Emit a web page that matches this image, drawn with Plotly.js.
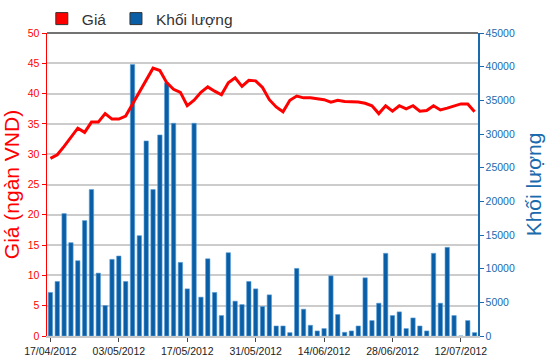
<!DOCTYPE html>
<html>
<head>
<meta charset="utf-8">
<script src="https://cdn.plot.ly/plotly-3.0.1.min.js"></script>
<style>html,body{margin:0;padding:0;background:#fff;}#chart{width:550px;height:364px;}</style>
</head>
<body>
<div id="chart"></div>
<script>
const dates = [
  "17/04/2012","18/04/2012","19/04/2012","20/04/2012","23/04/2012","24/04/2012","25/04/2012","26/04/2012","27/04/2012",
  "02/05/2012","03/05/2012","04/05/2012","07/05/2012","08/05/2012","09/05/2012","10/05/2012","11/05/2012","14/05/2012",
  "15/05/2012","16/05/2012","17/05/2012","18/05/2012","21/05/2012","22/05/2012","23/05/2012","24/05/2012","25/05/2012",
  "28/05/2012","29/05/2012","30/05/2012","31/05/2012","01/06/2012","04/06/2012","05/06/2012","06/06/2012","07/06/2012",
  "08/06/2012","11/06/2012","12/06/2012","13/06/2012","14/06/2012","15/06/2012","18/06/2012","19/06/2012","20/06/2012",
  "21/06/2012","22/06/2012","25/06/2012","26/06/2012","27/06/2012","28/06/2012","29/06/2012","02/07/2012","03/07/2012",
  "04/07/2012","05/07/2012","06/07/2012","09/07/2012","10/07/2012","11/07/2012","12/07/2012","13/07/2012","16/07/2012"
];
const price = [
  29.3, 29.9, 31.3, 32.8, 34.3, 33.6, 35.3, 35.3, 36.7,
  35.8, 35.8, 36.3, 38.3, 40.3, 42.2, 44.2, 43.8, 41.8,
  40.7, 40.2, 38.0, 38.9, 40.2, 41.1, 40.4, 39.8, 41.8,
  42.6, 41.2, 42.2, 42.1, 41.0, 39.0, 37.8, 37.0, 38.9,
  39.6, 39.3, 39.3, 39.1, 39.0, 38.6, 38.9, 38.7, 38.7,
  38.6, 38.4, 38.0, 36.7, 38.0, 37.1, 38.0, 37.5, 38.0,
  37.1, 37.2, 38.0, 37.3, 37.6, 38.0, 38.3, 38.3, 37.0
];
const volume = [
  6470, 8100, 18180, 13860, 11180, 17140, 21750, 9340, 4530,
  11380, 11880, 8100, 40330, 14900, 28970, 21750, 29860, 37600,
  31590, 10930, 7000, 31590, 5770, 11470, 6470, 3040, 12370,
  5170, 4670, 8100, 7000, 4380, 6110, 1490, 1490, 500,
  10040, 3980, 1590, 750, 1100, 8940, 3190, 550, 750,
  1490, 8640, 2290, 4870, 12280, 3040, 3580, 1100, 2680,
  1490, 750, 12280, 4870, 13170, 3040, 0, 2290, 500
];
const tickDates = ["17/04/2012","03/05/2012","17/05/2012","31/05/2012","14/06/2012","28/06/2012","12/07/2012"];
const legendNames = ["Giá", "Khối lượng"];

const RED = "#ff0000";
const BLUE = "#1a6aad";
const BAR = "#0a5ea6";
const FONT = "'Liberation Sans', Arial, sans-serif";

const traces = [
  {
    type: "bar", x: dates, y: volume, yaxis: "y", showlegend: false,
    marker: {color: BAR, line: {color: "#5b9fd6", width: 0.6}},
    hoverinfo: "x+y"
  },
  {
    type: "scatter", mode: "lines", x: dates, y: price, yaxis: "y2", showlegend: false,
    line: {color: RED, width: 3}
  },
  {
    type: "scatter", mode: "markers", x: [null], y: [null], name: legendNames[0], yaxis: "y2", legend: "legend",
    marker: {symbol: "square", size: 12, color: RED, line: {color: "#333", width: 1}}
  },
  {
    type: "scatter", mode: "markers", x: [null], y: [null], name: legendNames[1], yaxis: "y2", legend: "legend2",
    marker: {symbol: "square", size: 12, color: BAR, line: {color: "#333", width: 1}}
  }
];

const legendBase = {
  orientation: "h", xanchor: "left", y: 0.99, yanchor: "bottom",
  font: {family: FONT, size: 15.5, color: "#333"},
  bgcolor: "rgba(0,0,0,0)", borderwidth: 0, itemwidth: 30
};

const layout = {
  width: 550, height: 364,
  margin: {l: 47, r: 72, t: 33, b: 28, pad: 0, autoexpand: false},
  paper_bgcolor: "#ffffff", plot_bgcolor: "#ffffff",
  font: {family: FONT, color: "#222"},
  bargap: 0.36,
  showlegend: true,
  legend: Object.assign({}, legendBase, {x: -0.012}),
  legend2: Object.assign({}, legendBase, {x: 0.160}),
  xaxis: {
    type: "category", tickmode: "array", tickvals: tickDates, ticktext: tickDates,
    ticks: "outside", ticklen: 4, tickcolor: "#444", tickwidth: 1,
    tickfont: {family: FONT, size: 10.5, color: "#222"},
    showgrid: false, showline: true, linecolor: "#c8c8c8", linewidth: 2,
    zeroline: false, fixedrange: true
  },
  yaxis: {
    side: "right", range: [0, 45000], dtick: 5000, tick0: 0, tickformat: "d",
    showgrid: false, zeroline: false,
    showline: true, linecolor: BLUE, linewidth: 1.5,
    ticks: "outside", ticklen: 4, tickcolor: BLUE,
    tickfont: {family: FONT, size: 10.5, color: BLUE},
    title: {text: "Khối lượng", font: {family: FONT, size: 21, color: BLUE}, standoff: 12}
  },
  yaxis2: {
    overlaying: "y", side: "left", range: [0, 50], dtick: 5, tick0: 0,
    showgrid: true, gridcolor: "#cccccc", gridwidth: 2, zeroline: false,
    showline: true, linecolor: RED, linewidth: 1.5,
    ticks: "outside", ticklen: 4, tickcolor: RED,
    tickfont: {family: FONT, size: 10.5, color: RED},
    title: {text: "Giá (ngàn VND)", font: {family: FONT, size: 21, color: RED}, standoff: 8}
  },
  shapes: [
    {type: "line", xref: "paper", yref: "paper", x0: 0, x1: 1, y0: 1, y1: 1, line: {color: "#444", width: 1.5}}
  ]
};

Plotly.newPlot("chart", traces, layout, {displayModeBar: false, staticPlot: true});
</script>
</body>
</html>
